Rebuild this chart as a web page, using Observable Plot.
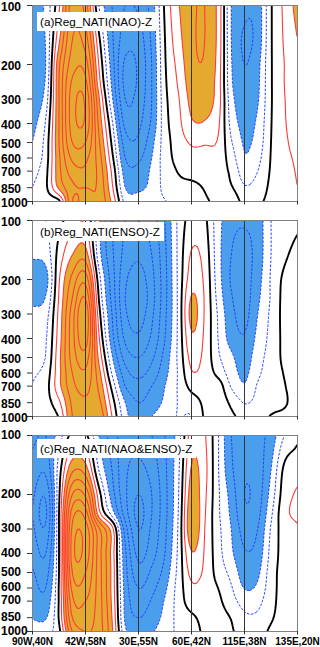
<!DOCTYPE html>
<html><head><meta charset="utf-8">
<script src="https://cdn.jsdelivr.net/npm/d3@7"></script>
<script src="https://cdn.jsdelivr.net/npm/@observablehq/plot@0.6"></script>
<style>
body{margin:0;background:#fff;}
#chart{position:relative;width:320px;height:647px;overflow:hidden;font-family:"Liberation Sans",Arial,sans-serif;}
#chart svg{position:absolute;left:0;display:block;}
.ttl{position:absolute;left:37px;height:19px;line-height:19px;background:#fff;padding:0 4px 0 3px;font-size:11.7px;color:#000;white-space:nowrap;}
</style></head>
<body><div id="chart"></div>
<script>
// x positions along the section (index of the labelled points, 0..5) and pressure levels (hPa)
const xLabels = ["90W,40N","42W,58N","30E,55N","60E,42N","115E,38N","135E,20N"];
const xTickIdx = [0,1,2,3,4,5];
const gridTicks = [1,2,3,4];
const yTicks = [100,200,300,400,500,600,700,850,1000];
const xColumns = [0,0.25,0.5,0.75,1,1.25,1.5,1.75,2,2.25,2.5,2.75,3,3.25,3.5,3.75,4,4.25,4.5,4.75,5];
const pressureLevels = [100,150,200,250,300,400,500,600,700,850,1000];
const titles = ["(a)Reg_NATI(NAO)-Z","(b)Reg_NATI(ENSO)-Z","(c)Reg_NATI(NAO&ENSO)-Z"];
const posLevels = [1,2,3,4,5,6,7,8,9,10];
const negLevels = [1,2,3,4,5,6,7,8];

// regression values (rows: 100 hPa ... 1000 hPa; columns: xColumns)
const panelA = [
 [-3,-1.7,0.8,4.5,3.5,-1,-3,-4,-3.8,-2.5,0.2,1.9,2.8,3,1.7,-2,-2.8,-2.6,-0.1,1.2,2.4],
 [-3,-1.9,1.8,5,4.5,0.3,-2.8,-4.5,-4.5,-2.8,0,1.6,2.8,3,1.7,-2,-3.1,-2.6,-0.1,1.1,2],
 [-3,-2,2.8,5.5,5.5,1,-2.5,-5.2,-4.8,-3,-0.1,1.3,2.7,2.9,1.6,-1.9,-3,-2.3,-0.1,1,1.8],
 [-3,-1.8,3,6.2,6.3,1.5,-2.2,-5.3,-4.8,-3,-0.2,1.1,2.5,2.7,1.5,-1.8,-2.8,-2.2,-0.1,1,1.7],
 [-2.8,-1.5,3,6.5,6.8,2.2,-1.8,-5,-4.6,-3,-0.3,0.9,2.3,2.5,1.5,-1.6,-2.6,-2.1,-0.1,0.95,1.6],
 [-2.4,-0.9,3,6.5,6.8,2.8,-0.8,-4.3,-4.2,-2.8,-0.4,0.7,1.85,1.9,1.2,-1.3,-2.3,-1.8,-0.05,0.9,1.5],
 [-2,-0.6,3,6,6,3.2,-0.2,-3.5,-3.8,-2.3,-0.5,0.5,1.1,1.1,0.9,-0.9,-2.1,-1.6,0,0.8,1.4],
 [-1.7,-0.5,2.8,5.2,5.2,3.5,0.3,-3,-3.2,-2,-0.5,0.3,0.7,0.6,0.6,-0.5,-1.9,-1.3,0.05,0.7,1.2],
 [-1.4,-0.3,2.7,4.5,4.8,3.7,0.8,-2.5,-2.7,-1.8,-0.6,0.05,0.3,0.3,0.4,-0.2,-1.5,-1,0.1,0.6,1.1],
 [-1,-0.2,2.2,3.8,4,3.8,1.2,-2,-2.2,-1.7,-0.7,-0.3,-0.2,0.05,0.3,0.1,-0.9,-0.6,0.2,0.5,1],
 [-0.8,-0.6,-0.3,4,3.5,3.8,1.8,-1.3,-1.5,-1.4,-1.05,-0.7,-0.4,-0.1,0.2,0.8,-0.4,-0.2,0.3,0.5,0.9]
];
const panelB = [
 [-1.4,-1,-0.3,0.5,0.8,-1.8,-4,-5,-5,-4.5,-3,-0.8,0.4,0.2,-1.6,-2.7,-2.9,-2.6,-1,-0.7,-0.3],
 [-1.9,-1.6,0.4,2,2.5,-1.5,-3.8,-5.3,-5.8,-5,-3.2,-0.8,1.1,0.6,-1.6,-3,-3.3,-2.6,-1,-0.2,0.4],
 [-2.6,-2.4,0.9,3.3,4.6,-0.5,-3.5,-5.8,-6.5,-5.3,-3.3,-0.8,1.5,0.8,-1.5,-3.1,-3.4,-2.4,-0.9,0.2,0.6],
 [-2.4,-1.9,1.1,4,6,0,-3.3,-6,-6.8,-5.4,-3.3,-0.8,2.1,0.9,-1.3,-2.9,-3.4,-2.2,-0.9,0.3,0.7],
 [-1.7,-1.4,1.3,4.5,6.8,0.5,-3,-5.8,-6.5,-5.2,-3.2,-0.8,2.3,0.9,-1.1,-2.7,-3.3,-2,-0.8,0.3,0.7],
 [-1.5,-1.1,1.5,4.6,6.5,1.2,-2.6,-5.2,-5.8,-4.8,-3,-0.8,1.8,0.8,-1,-2.4,-2.9,-1.7,-0.7,0.25,0.7],
 [-1.3,-0.95,1.7,4.4,5.5,1.8,-1.85,-4.4,-5,-4.2,-2.6,-0.8,1.3,0.7,-0.8,-1.8,-2.5,-1.4,-0.6,0.2,0.6],
 [-1.15,-0.6,1.7,4,4.8,2.4,-1.1,-3.6,-4.3,-3.6,-2.3,-0.9,0.9,0.6,-0.3,-1.5,-2.2,-1.2,-0.5,0.05,0.6],
 [-0.95,-0.4,1.7,3.7,4.3,2.8,-0.3,-3,-3.6,-3,-2,-0.9,0.3,0.4,0.5,-1.1,-1.9,-0.9,-0.4,-0.05,0.5],
 [-0.7,-0.4,0.8,3.2,3.8,3.3,0.5,-2,-3,-2.5,-1.8,-0.95,-0.5,0.2,0.6,-0.2,-1.05,-0.7,-0.3,-0.1,0.4],
 [-0.5,-0.6,0.1,3,3.3,3.8,1,-1.6,-2.6,-2,-1.5,-0.95,-1.05,0.1,0.3,0.2,-0.4,-0.3,0.05,0.2,0.3]
];
const panelC = [
 [-2.8,-3,-1.5,0.3,0.2,-2,-3.5,-4.5,-4.5,-4,-3,-1.5,1.5,1.1,-0.9,-3,-3.3,-3.3,-2.6,-1,-0.2],
 [-3.3,-3.8,-0.5,2.8,2.5,-1,-3,-4.8,-5.3,-4.6,-3.2,-1.2,2.1,1.3,-0.9,-2.8,-3.8,-3.5,-2,0.2,0.6],
 [-3.8,-4.8,-0.2,5,4.8,0.5,-2.5,-4.8,-6,-5,-3.3,-1.1,2.5,1.2,-0.8,-2.4,-4,-3.5,-1.6,0.5,1.15],
 [-4,-5.2,0,6.5,6.5,1.5,-1.4,-4.5,-6.3,-5,-3.3,-1,2.8,1.1,-0.8,-2.2,-3.8,-3.3,-1.2,0.7,1.2],
 [-3.8,-4.8,0,7.2,7.5,4.2,1.4,-3.5,-6,-4.8,-3.2,-0.9,2.8,1,-0.7,-2,-3.4,-3,-0.9,0.5,0.9],
 [-3.3,-4,0,7.5,7.6,4.5,1.6,-2.8,-5.3,-4.4,-3,-0.8,1.9,0.9,-0.6,-1.8,-2.9,-2.6,-0.7,0.4,0.7],
 [-2.9,-3.4,0,7,7,4.5,1.7,-2.6,-4.6,-3.8,-2.6,-0.7,1.3,0.8,-0.4,-1.3,-2.5,-2.2,-0.5,0.4,0.6],
 [-2.6,-3,0.1,6.3,6.5,4.5,1.7,-2.4,-4,-3.3,-2.2,-0.6,0.8,0.6,0,-0.9,-2.05,-1.8,-0.4,0.35,0.5],
 [-2.3,-2.6,0.1,5.7,6,4.5,1.8,-2.3,-3.5,-2.9,-1.9,-0.6,0.5,0.5,0.2,-0.6,-1.4,-1.3,-0.3,0.35,0.45],
 [-2.05,-2.1,0.1,5,5.5,4.5,2,-2.2,-3,-2.5,-1.7,-0.7,-0.2,0.3,0.35,-0.05,-0.8,-0.8,-0.1,0.3,0.4],
 [-1.5,-1.2,-0.3,4,5,4.5,2.2,-1.8,-2.6,-2.1,-1.5,-0.8,-0.5,0.2,0.4,0.1,-0.4,-0.4,0.15,0.3,0.4]
];

const ORANGE = "#e6a930", BLUE = "#4a9eec", RED = "#ff3a3a", DBLUE = "#1f3bff";

// smooth (cubic Hermite, separable) interpolation of the sampled grid for Plot's raster/contour
function hermite(xs, vs, x) {
  const n = xs.length;
  if (x <= xs[0]) return vs[0];
  if (x >= xs[n - 1]) return vs[n - 1];
  const i = Math.min(n - 2, d3.bisectRight(xs, x) - 1);
  const slope = k => k <= 0 ? (vs[1] - vs[0]) / (xs[1] - xs[0])
    : k >= n - 1 ? (vs[n - 1] - vs[n - 2]) / (xs[n - 1] - xs[n - 2])
    : ((vs[k + 1] - vs[k]) / (xs[k + 1] - xs[k]) + (vs[k] - vs[k - 1]) / (xs[k] - xs[k - 1])) / 2;
  const h = xs[i + 1] - xs[i], t = (x - xs[i]) / h, t2 = t * t, t3 = t2 * t;
  return (2*t3 - 3*t2 + 1) * vs[i] + (t3 - 2*t2 + t) * slope(i) * h + (-2*t3 + 3*t2) * vs[i + 1] + (t3 - t2) * slope(i + 1) * h;
}
function smoothGrid(index, width, height, X, Y, V) {
  const key = v => Math.round(v * 1000);
  const xs = Array.from(new Set(Array.from(index, i => key(X[i])))).sort((a, b) => a - b);
  const ys = Array.from(new Set(Array.from(index, i => key(Y[i])))).sort((a, b) => a - b);
  const xi = new Map(xs.map((x, i) => [x, i])), yi = new Map(ys.map((y, i) => [y, i]));
  const G = ys.map(() => new Float64Array(xs.length));
  for (const i of index) G[yi.get(key(Y[i]))][xi.get(key(X[i]))] = V[i];
  const xsP = xs.map(v => v / 1000), ysP = ys.map(v => v / 1000);
  const out = new Float64Array(width * height);
  const col = new Float64Array(ys.length);
  for (let c = 0; c < width; ++c) {
    for (let r = 0; r < ys.length; ++r) col[r] = hermite(xsP, G[r], c + 0.5);
    for (let rr = 0; rr < height; ++rr) out[rr * width + c] = hermite(ysP, col, rr + 0.5);
  }
  return out;
}

function makePanel(grid, showLabels, svgHeight, marginBottom, labelDy) {
  const data = [];
  pressureLevels.forEach((p, i) => xColumns.forEach((x, j) => data.push({x, p, v: grid[i][j]})));
  const base = {x: "x", y: "p", interpolate: smoothGrid, x1: -0.12, x2: 5.12, y1: 94, y2: 1070, clip: true};
  return Plot.plot({
    width: 320, height: svgHeight,
    marginLeft: 32, marginRight: 23, marginTop: 5, marginBottom,
    x: {domain: [0, 5]},
    y: {type: "log", domain: [1000, 100]},
    style: {fontFamily: "'Liberation Sans', Arial, sans-serif", background: "transparent", overflow: "visible"},
    marks: [
      Plot.contour(data, {...base, value: "v", thresholds: [2], fill: ORANGE, stroke: "none"}),
      Plot.contour(data, {...base, value: d => -d.v, thresholds: [2], fill: BLUE, stroke: "none"}),
      Plot.contour(data, {...base, value: "v", thresholds: posLevels, fill: "none", stroke: RED, strokeWidth: 1.1}),
      Plot.contour(data, {...base, value: d => -d.v, thresholds: negLevels, fill: "none", stroke: DBLUE, strokeWidth: 1, strokeDasharray: "2.5,1.5"}),
      Plot.contour(data, {...base, value: "v", thresholds: [0], fill: "none", stroke: "#000", strokeWidth: 1.9}),
      Plot.ruleX(gridTicks, {stroke: "#333", strokeWidth: 1}),
      Plot.frame({stroke: "#808080"}),
      Plot.axisY(yTicks, {tickSize: 5, tickFormat: () => "", label: null, stroke: "#333"}),
      Plot.text(yTicks, {y: d => d, text: d => String(d), frameAnchor: "left", textAnchor: "start", dx: -31.5, dy: labelDy, fontSize: 12, fontWeight: "bold", fill: "#000"}),
      Plot.axisX(xTickIdx, {tickSize: 3.5, tickPadding: 3, tickFormat: i => showLabels ? xLabels[i] : "", fontSize: 10, fontWeight: "bold", label: null, stroke: "#333"})
    ]
  });
}

const chart = document.getElementById("chart");
const layout = [
  {grid: panelA, top: 0, h: 211, mb: 10, labels: false, ttlTop: 12, dy: 1.2},
  {grid: panelB, top: 215, h: 211, mb: 10, labels: false, ttlTop: 222, dy: 1.2},
  {grid: panelC, top: 430, h: 217, mb: 16, labels: true, ttlTop: 439, dy: -0.5}
];
layout.forEach((L, k) => {
  const svg = makePanel(L.grid, L.labels, L.h, L.mb, L.dy);
  svg.style.top = L.top + "px";
  chart.appendChild(svg);
  const t = document.createElement("div");
  t.className = "ttl";
  t.style.top = L.ttlTop + "px";
  t.textContent = titles[k];
  chart.appendChild(t);
});
</script>
</body></html>
